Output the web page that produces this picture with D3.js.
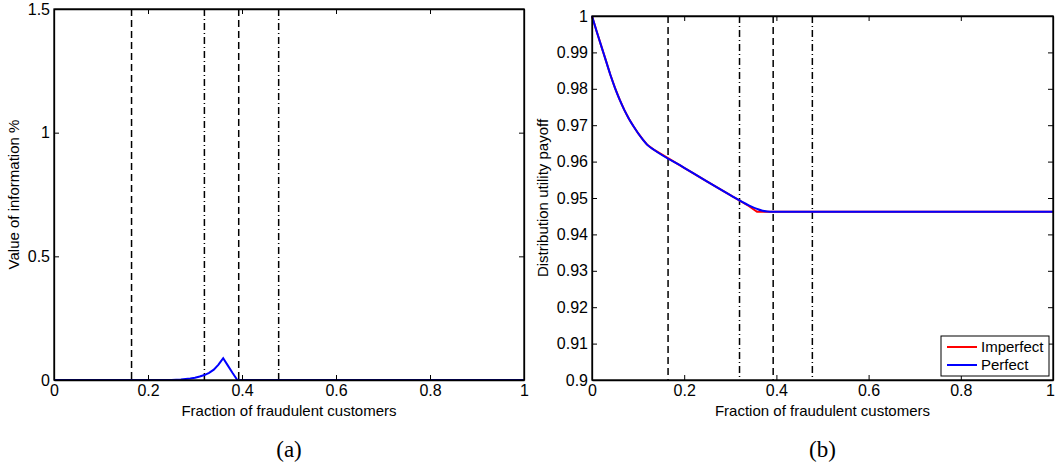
<!DOCTYPE html>
<html><head><meta charset="utf-8">
<script src="https://cdn.jsdelivr.net/npm/d3@7"></script>
<style>body{margin:0;background:#fff}svg{display:block}</style>
</head><body><svg id="c" width="1055" height="465"></svg>
<script>
// ---- data ----
const xTicks = [0, 0.2, 0.4, 0.6, 0.8, 1];
const yTicksA = [0, 0.5, 1, 1.5];
const yTicksB = [0.9, 0.91, 0.92, 0.93, 0.94, 0.95, 0.96, 0.97, 0.98, 0.99, 1];
const dashedX = [0.165, 0.393];
const dashDotX = [0.32, 0.478];
const valueX = [0, 0.25, 0.27, 0.29, 0.30, 0.31, 0.32, 0.33, 0.34, 0.35, 0.355, 0.36, 0.37, 0.38, 0.39, 1];
const valueY = [0, 0, 0.002, 0.006, 0.009, 0.014, 0.020, 0.029, 0.042, 0.062, 0.075, 0.088, 0.058, 0.028, 0, 0];
const payX = [0, 0.01, 0.02, 0.03, 0.04, 0.05, 0.06, 0.07, 0.08, 0.09, 0.10, 0.11, 0.12, 0.135, 0.2, 0.25, 0.3, 0.34, 0.358, 0.37, 0.38, 0.39, 0.5, 0.7, 1];
const imperfectY = [1.0, 0.9958, 0.9918, 0.9878, 0.9838, 0.9802, 0.9770, 0.9742, 0.9718, 0.9697, 0.9678, 0.9661, 0.9646, 0.9632, 0.9583, 0.9545, 0.9508, 0.9478, 0.9462, 0.9462, 0.9462, 0.9462, 0.9462, 0.9462, 0.9462];
const perfectY   = [1.0, 0.9958, 0.9918, 0.9878, 0.9838, 0.9802, 0.9770, 0.9742, 0.9718, 0.9697, 0.9678, 0.9661, 0.9646, 0.9632, 0.9583, 0.9545, 0.9508, 0.9480, 0.9470, 0.9465, 0.9463, 0.9462, 0.9462, 0.9462, 0.9462];
const seriesNames = ["Imperfect", "Perfect"];
const seriesColors = ["#ff0000", "#0000ff"];

const SANS = '"Liberation Sans",Arial,Helvetica,sans-serif';
const SERIF = '"Liberation Serif","DejaVu Serif",serif';
const svg = d3.select("#c");

function panel(o) {
  const x = d3.scaleLinear().domain([0, 1]).range([o.left, o.right]);
  const y = d3.scaleLinear().domain(o.ydom).range([o.bottom, o.top]);
  const g = svg.append("g");
  dashedX.forEach(v => g.append("line").attr("x1", x(v)).attr("x2", x(v)).attr("y1", o.top).attr("y2", o.bottom)
    .attr("stroke", "#000").attr("stroke-width", 1.5).attr("stroke-dasharray", "7,4"));
  dashDotX.forEach(v => g.append("line").attr("x1", x(v)).attr("x2", x(v)).attr("y1", o.top).attr("y2", o.bottom)
    .attr("stroke", "#000").attr("stroke-width", 1.5).attr("stroke-dasharray", "7,3,1,3"));
  o.series.forEach(s => {
    const line = d3.line().x(d => x(d[0])).y(d => y(d[1])).curve(s.curve || d3.curveLinear);
    g.append("path").attr("d", line(s.xs.map((v, i) => [v, s.ys[i]])))
      .attr("fill", "none").attr("stroke", s.color).attr("stroke-width", 2);
  });
  const tl = 5;
  g.append("g").attr("transform", `translate(0,${o.bottom})`)
    .call(d3.axisBottom(x).tickValues(xTicks).tickFormat(d3.format("~g")).tickSizeInner(-tl).tickSizeOuter(0).tickPadding(5));
  g.append("g").attr("transform", `translate(0,${o.top})`)
    .call(d3.axisTop(x).tickValues(xTicks).tickFormat("").tickSizeInner(-tl).tickSizeOuter(0));
  g.append("g").attr("transform", `translate(${o.left},0)`)
    .call(d3.axisLeft(y).tickValues(o.yticks).tickFormat(d3.format("~g")).tickSizeInner(-tl).tickSizeOuter(0).tickPadding(4));
  g.append("g").attr("transform", `translate(${o.right},0)`)
    .call(d3.axisRight(y).tickValues(o.yticks).tickFormat("").tickSizeInner(-tl).tickSizeOuter(0));
  g.selectAll(".domain").attr("stroke", "#000").attr("stroke-width", 1.3);
  g.selectAll(".tick line").attr("stroke", "#000");
  g.selectAll(".tick text").style("font-size", "16px").style("font-family", SANS).attr("fill", "#000");
  g.append("rect").attr("x", o.left).attr("y", o.top).attr("width", o.right - o.left).attr("height", o.bottom - o.top)
    .attr("fill", "none").attr("stroke", "#000").attr("stroke-width", 1.3);
  const cx = (o.left + o.right) / 2;
  g.append("text").attr("x", cx).attr("y", 416).attr("text-anchor", "middle")
    .style("font-size", "15px").style("font-family", SANS).text("Fraction of fraudulent customers");
  g.append("text").attr("transform", `translate(${o.ylabX},${(o.top + o.bottom) / 2}) rotate(-90)`).attr("text-anchor", "middle")
    .style("font-size", "15px").style("font-family", SANS).text(o.ylabel);
  g.append("text").attr("x", cx).attr("y", 457).attr("text-anchor", "middle")
    .style("font-size", "23px").style("font-family", SERIF).text(o.caption);
  return { x, y, g };
}

const pa = panel({ left: 54, right: 524, top: 9, bottom: 380, ydom: [0, 1.5], yticks: yTicksA,
  series: [{ xs: valueX, ys: valueY, color: "#0000ff" }], ylabel: "Value of information %", ylabX: 19, caption: "(a)" });

const pb = panel({ left: 592, right: 1053, top: 16, bottom: 380, ydom: [0.9, 1], yticks: yTicksB,
  series: [{ xs: payX, ys: imperfectY, color: seriesColors[0] }, { xs: payX, ys: perfectY, color: seriesColors[1], curve: d3.curveMonotoneX }],
  ylabel: "Distribution utility payoff", ylabX: 548, caption: "(b)" });
// keep the last x tick label inside the page
pb.g.selectAll(".tick text").filter(d => d === 1 && false);
pb.g.selectAll("g.tick").filter(function(d){ return d === 1 && this.parentNode.getAttribute("transform") === "translate(0,380)"; })
  .select("text").attr("dx", "-3");

// legend
const lg = pb.g.append("g");
lg.append("rect").attr("x", 941).attr("y", 336).attr("width", 108).attr("height", 40).attr("fill", "#fff").attr("stroke", "#000").attr("stroke-width", 1);
seriesNames.forEach((n, i) => {
  const yy = 347 + i * 18;
  lg.append("line").attr("x1", 947).attr("x2", 977).attr("y1", yy).attr("y2", yy).attr("stroke", seriesColors[i]).attr("stroke-width", 2);
  lg.append("text").attr("x", 981).attr("y", yy + 5).style("font-size", "15px").style("font-family", SANS).text(n);
});
</script></body></html>
